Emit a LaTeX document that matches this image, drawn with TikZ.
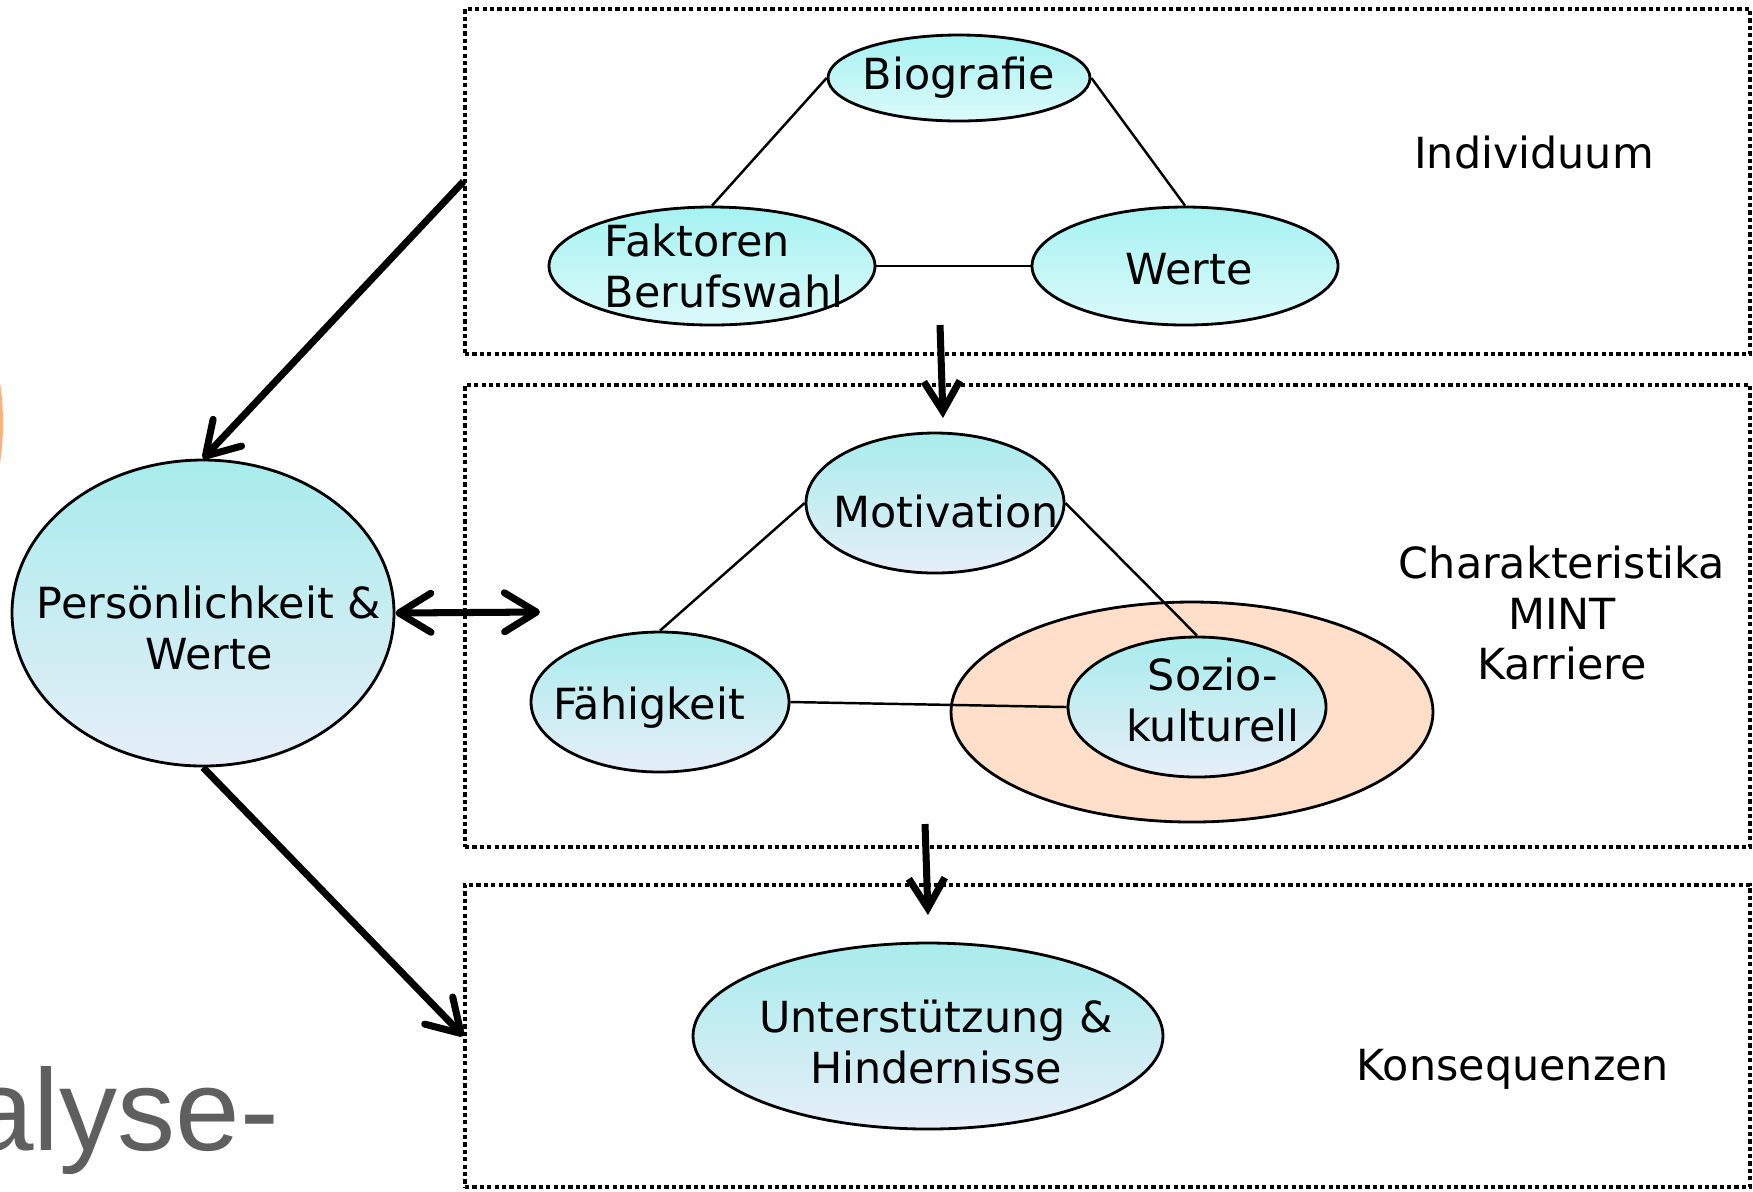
\documentclass[tikz,border=0pt]{standalone}
\usepackage{fontspec}
\setmainfont{DejaVu Sans}
\newfontfamily\folienfont{Liberation Sans}
\usepackage{tikz}
\usetikzlibrary{shapes,shapes.geometric}
\usetikzlibrary{arrows.meta}
\definecolor{cyanoben}{HTML}{A6F2F2}
\definecolor{cyanunten}{HTML}{DCFAFA}
\definecolor{tuerkisoben}{HTML}{A8ECEC}
\definecolor{tuerkisunten}{HTML}{E6EEF8}
\definecolor{pfirsich}{HTML}{FFDFCA}
\definecolor{folienorange}{HTML}{FFB07C}
\definecolor{foliengrau}{HTML}{5F5F5F}

\begin{document}
\begin{tikzpicture}[
	oval/.style={ellipse,draw,line width=0.8pt,inner sep=0pt,top color=tuerkisoben,bottom color=tuerkisunten},
	ovalhell/.style={oval,top color=cyanoben,bottom color=cyanunten},
	ovaltext/.style={align=center,inner sep=0pt},
	rahmen/.style={rectangle,draw,line width=0.9pt,dash pattern=on 1.2pt off 0.9pt,inner sep=0pt},
	linie/.style={line width=0.7pt},
	pfeil/.style={line width=2pt,-{Straight Barb[length=3.2mm,width=3.9mm,round]}},
	pfeilbeide/.style={line width=2pt,{Straight Barb[length=3.2mm,width=3.9mm,round]}-{Straight Barb[length=3.2mm,width=3.9mm,round]}},
	pfeilduenn/.style={line width=2pt,-{Straight Barb[length=3mm,width=3.6mm]}},
	font=\fontsize{12.2}{14.5}\selectfont]
			\useasboundingbox (0,0) rectangle (17.53,-11.91);
			\fill[folienorange] (-2.65,-4.23) circle (2.68);
			\node[anchor=base west,text=foliengrau,font=\folienfont\fontsize{33}{38}\selectfont] (folientitel) at (-0.43,-11.50) {alyse-};

			\node[rahmen,minimum width=12.85cm,minimum height=3.45cm] (individuum) at (11.075,-1.815) {};
			\node[rahmen,minimum width=12.85cm,minimum height=4.62cm] (charakter) at (11.075,-6.16) {};
			\node[rahmen,minimum width=12.85cm,minimum height=3.02cm] (konsequenz) at (11.075,-10.36) {};

			\node[ovalhell,minimum width=2.62cm,minimum height=0.86cm] (biografie) at (9.59,-0.78) {};
			\node[ovalhell,minimum width=3.26cm,minimum height=1.18cm] (faktoren) at (7.12,-2.66) {};
			\node[ovalhell,minimum width=3.06cm,minimum height=1.18cm] (werte) at (11.85,-2.66) {};
			\node[oval,minimum width=2.58cm,minimum height=1.40cm] (motivation) at (9.35,-5.03) {};
			\node[oval,minimum width=2.58cm,minimum height=1.40cm] (faehigkeit) at (6.60,-7.02) {};
			\node[ellipse,draw,line width=0.8pt,fill=pfirsich,minimum width=4.82cm,minimum height=2.20cm] (umfeld) at (11.92,-7.12) {};
			\node[oval,minimum width=2.58cm,minimum height=1.40cm] (sozio) at (11.97,-7.07) {};
			\node[oval,minimum width=4.70cm,minimum height=1.86cm] (unterstuetzung) at (9.28,-10.36) {};
			\node[oval,minimum width=3.82cm,minimum height=3.06cm] (persoenlichkeit) at (2.03,-6.13) {};

			\node[ovaltext] (biografietext) at (9.59,-0.78) {Biografie};
			\node[ovaltext,align=left] (faktorentext) at (7.24,-2.66) {Faktoren\\Berufswahl};
			\node[ovaltext] (wertetext) at (11.89,-2.69) {Werte};
			\node[ovaltext] (motivationtext) at (9.46,-5.11) {Motivation};
			\node[ovaltext] (faehigkeittext) at (6.49,-7.08) {Fähigkeit};
			\node[ovaltext] (soziotext) at (12.13,-7.00) {Sozio-\\kulturell};
			\node[ovaltext] (unterstuetzungtext) at (9.36,-10.42) {Unterstützung \&\\Hindernisse};
			\node[ovaltext] (persoenlichkeittext) at (2.09,-6.28) {Persönlichkeit \&\\Werte};

			\node (individuumtext) at (15.34,-1.52) {Individuum};
			\node[align=center] (charaktertext) at (15.62,-6.13) {Charakteristika\\MINT\\Karriere};
			\node (konsequenztext) at (15.13,-10.69) {Konsequenzen};

			\draw[linie] (biografie.west) -- (faktoren.north);
			\draw[linie] (biografie.east) -- (werte.north);
			\draw[linie] (faktoren.east) -- (werte.west);
			\draw[linie] (motivation.west) -- (faehigkeit.north);
			\draw[linie] (motivation.east) -- (sozio.north);
			\draw[linie] (faehigkeit.east) -- (sozio.west);

			\coordinate (doppelende) at (5.40,-6.12);
			\coordinate (abstart) at (9.40,-3.25);
			\coordinate (abziel) at (9.43,-4.18);
			\coordinate (abstartzwei) at (9.25,-8.24);
			\coordinate (abzielzwei) at (9.28,-9.15);

			\draw[pfeil] (individuum.west) -- (persoenlichkeit.north);
			\draw[pfeil] (persoenlichkeit.south) -- (konsequenz.west);
			\draw[pfeilbeide] (persoenlichkeit.east) -- (doppelende);
			\draw[pfeilduenn] (abstart) -- (abziel);
			\draw[pfeilduenn] (abstartzwei) -- (abzielzwei);
\end{tikzpicture}
\end{document}
